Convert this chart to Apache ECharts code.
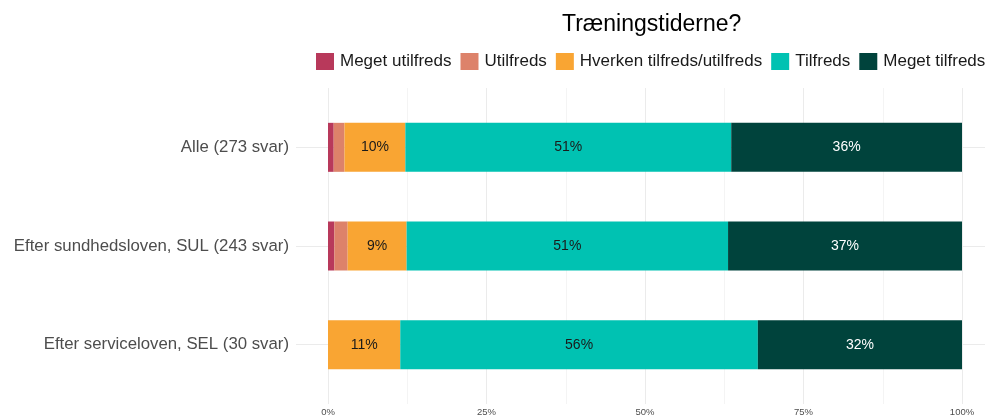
<!DOCTYPE html>
<html>
<head>
<meta charset="utf-8">
<script src="https://cdn.jsdelivr.net/npm/echarts@6/dist/echarts.min.js"></script>
<style>
  html, body { margin: 0; padding: 0; background: #fff; }
  #chart { width: 985px; height: 418px; }
</style>
</head>
<body>
<div id="chart"></div>
<script>
var FONT = "'Liberation Sans', Arial, sans-serif";
var groups = ["Alle (273 svar)", "Efter sundhedsloven, SUL (243 svar)", "Efter serviceloven, SEL (30 svar)"];
var levels = ["Meget utilfreds", "Utilfreds", "Hverken tilfreds/utilfreds", "Tilfreds", "Meget tilfreds"];
var COLORS = ["#b8395b", "#dd826a", "#f9a533", "#00c2b2", "#00433c"];
var LABEL_COLORS = ["#1a1a1a", "#1a1a1a", "#1a1a1a", "#1a1a1a", "#ffffff"];

// percent per group, in the order of levels
var meget_utilfreds = [0.9, 1.0, 0];
var utilfreds = [1.7, 2.1, 0];
var hverken = [9.6, 9.3, 11.4];
var tilfreds = [51.4, 50.7, 56.4];
var meget_tilfreds = [36.4, 36.9, 32.2];
var xTicks = [0, 25, 50, 75, 100];

var values = [meget_utilfreds, utilfreds, hverken, tilfreds, meget_tilfreds];

var chart = echarts.init(document.getElementById("chart"));

function pctLabel(p) {
  return p.value >= 5 ? Math.round(p.value) + "%" : "";
}

var series = levels.map(function(name, i) {
  return {
    name: name, type: "bar", stack: "all", xAxisIndex: 0, yAxisIndex: 0,
    barWidth: 49, data: values[i],
    itemStyle: { color: COLORS[i] },
    label: { show: true, position: "inside", formatter: pctLabel,
             color: LABEL_COLORS[i], fontSize: 14, fontFamily: FONT },
    emphasis: { disabled: true }
  };
});

var gridColor = "#ebebeb";

chart.setOption({
  animation: false,
  title: {
    text: "Træningstiderne?", left: 562, top: 13, padding: 0,
    textStyle: { fontSize: 23, fontWeight: "normal", color: "#000", fontFamily: FONT }
  },
  legend: {
    data: levels, left: 316, top: 53, width: 2000, padding: 0,
    icon: "rect", itemWidth: 18, itemHeight: 17, itemGap: 9,
    textStyle: { fontSize: 17, color: "#1a1a1a", fontFamily: FONT, padding: [0, 0, 0, 1] },
    selectedMode: false
  },
  grid: [
    { left: 328, width: 634, top: 98, height: 296, containLabel: false },
    { left: 328, width: 634, top: 88, height: 316, containLabel: false },
    { left: 296, width: 698, top: 147.3, height: 197.4, containLabel: false }
  ],
  xAxis: [
    { type: "value", gridIndex: 0, min: 0, max: 100, show: false },
    { type: "value", gridIndex: 1, min: xTicks[0], max: xTicks[xTicks.length - 1], interval: 25,
      axisLine: { show: false }, axisTick: { show: false },
      axisLabel: { formatter: "{value}%", color: "#4d4d4d", fontSize: 9.5, fontFamily: FONT, margin: 3 },
      splitLine: { show: true, lineStyle: { color: gridColor, width: 1 } },
      minorTick: { show: false, splitNumber: 2 },
      minorSplitLine: { show: true, lineStyle: { color: "#f4f4f4", width: 1 } } },
    { type: "value", gridIndex: 2, min: 0, max: 1, show: false }
  ],
  yAxis: [
    { type: "category", gridIndex: 0, data: groups, inverse: true,
      axisLine: { show: false }, axisTick: { show: false },
      axisLabel: { color: "#4d4d4d", fontSize: 16.8, fontFamily: FONT, margin: 39 } },
    { type: "value", gridIndex: 1, min: 0, max: 1, show: false },
    { type: "value", gridIndex: 2, min: 1, max: 3, interval: 1,
      axisLine: { show: false }, axisTick: { show: false }, axisLabel: { show: false },
      splitLine: { show: true, lineStyle: { color: gridColor, width: 1 } } }
  ],
  series: series
});
</script>
</body>
</html>
